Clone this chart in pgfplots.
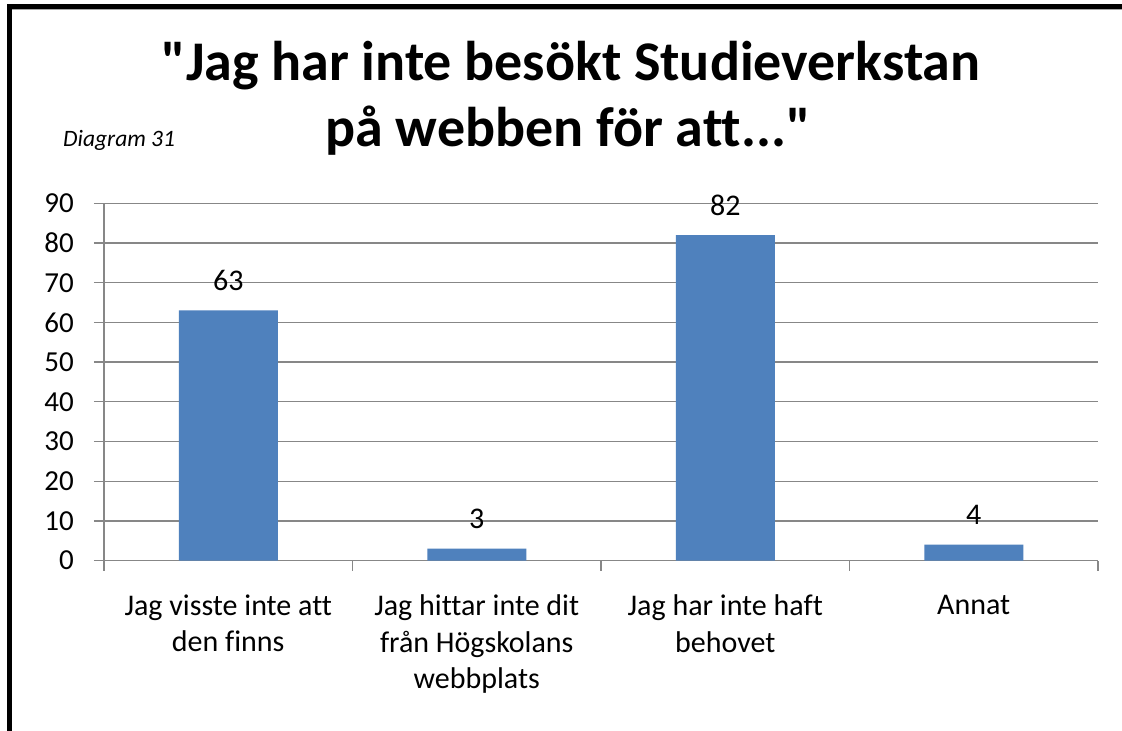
\documentclass[border=0pt]{standalone}
\usepackage{fontspec}
\setmainfont{Carlito}[Ligatures={TeXOff,CommonOff}]
\usepackage{pgfplots}
\pgfplotsset{compat=1.18}
\definecolor{barblue}{HTML}{4F81BD}
\definecolor{gridgray}{HTML}{878787}
\begin{document}
\begin{tikzpicture}[x=1pt,y=1pt]
\path[use as bounding box] (0,0) rectangle (1122,731);
\fill[white] (0,0) rectangle (1122,731);
% frame
\draw[black, line width=5pt] (9.5,0) -- (9.5,724.5);
\draw[black, line width=5pt] (7,724.5) -- (1122,724.5);
\draw[black!35, line width=1pt] (12,721.5) -- (1122,721.5);
% titles
\node[anchor=base, inner sep=0pt, font=\bfseries\fontsize{56}{66}\selectfont] at (571,650) {"Jag har inte besökt Studieverkstan};
\node[anchor=base, inner sep=0pt, font=\bfseries\fontsize{56}{66}\selectfont] at (568,584) {på webben för att..."};
\node[anchor=base west, inner sep=0pt, font=\itshape\fontsize{23.5}{28}\selectfont] at (63,584) {Diagram 31};
\begin{axis}[
  at={(104pt,170.4pt)}, anchor=south west,
  width=994pt, height=357.3pt, scale only axis,
  ymin=0, ymax=90, ytick={0,10,...,90},
  xmin=0.5, xmax=4.5,
  xtick={0.5,1.5,2.5,3.5,4.5}, xticklabels={},
  extra x ticks={1,2,3,4},
  extra x tick labels={{Jag visste inte att\\den finns},{Jag hittar inte dit\\från Högskolans\\webbplats},{Jag har inte haft\\behovet},{Annat}},
  extra x tick style={major tick length=0pt, tick style={draw=none},
     tick label style={align=center, anchor=north, inner sep=0pt, yshift=-34pt, font=\fontsize{30}{36.5}\selectfont}},
  axis x line*=bottom, axis y line*=left,
  axis line style={gridgray, line width=1.3pt},
  ymajorgrids, major grid style={gridgray, line width=1.3pt},
  tick align=outside, tick style={gridgray, line width=1.3pt},
  major tick length=10pt,
  /pgf/number format/assume math mode=true,
  yticklabel style={anchor=east, inner sep=0pt, font=\fontsize{29}{35}\selectfont, xshift=-20pt},
  ybar, bar width=99pt,
  clip=false,
  nodes near coords,
  every node near coord/.append style={anchor=base, inner sep=0pt, yshift=20pt, font=\fontsize{30}{36}\selectfont, black},
]
\addplot[fill=barblue, draw=none] coordinates {(1,63) (2,3) (3,82) (4,4)};
\end{axis}
\end{tikzpicture}
\end{document}
